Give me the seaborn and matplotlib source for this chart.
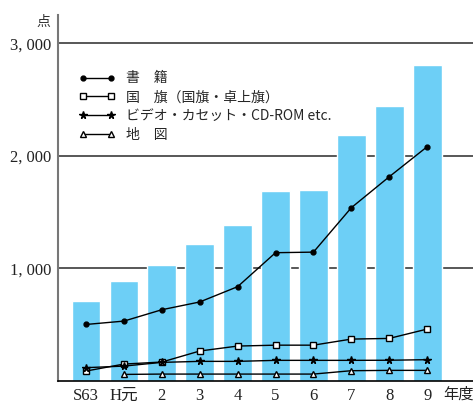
import numpy as np
import pandas as pd
import matplotlib
matplotlib.use("Agg")
import matplotlib.pyplot as plt
import seaborn as sns

# 年度 labels
years = ["S63", "H元", "2", "3", "4", "5", "6", "7", "8", "9"]
# total items (bars)
total = [710, 886, 1030, 1215, 1385, 1690, 1698, 2180, 2445, 2810]
# 書籍
books = [500, 530, 631, 700, 836, 1138, 1143, 1538, 1813, 2080]
# 国旗（国旗・卓上旗）
flags = [86, 148, 166, 264, 308, 316, 316, 370, 376, 459]
# ビデオ・カセット・CD-ROM etc.
media = [116, 130, 163, 172, 172, 181, 181, 181, 182, 187]
# 地図 (no entry for S63)
maps = [np.nan, 56, 59, 59, 59, 59, 59, 89, 92, 92]

y_ticks = [1000, 2000, 3000]
y_tick_labels = ["1, 000", "2, 000", "3, 000"]

sns.set_theme(style="white")
plt.rcParams["font.family"] = ["Liberation Serif", "Noto Sans CJK JP", "DejaVu Sans"]

fig = plt.figure(figsize=(4.73, 4.03), dpi=100)
ax = fig.add_axes([0.1226, 0.0553, 0.8774, 0.9075])

df = pd.DataFrame({"year": years, "total": total})
sns.barplot(data=df, x="year", y="total", color="#6DCFF6", saturation=1,
            width=0.76, ax=ax, zorder=2)

pos = np.arange(len(years))
line_kw = dict(color="black", linewidth=1.0, zorder=4)
ax.plot(pos, books, marker="o", markersize=3.5, markerfacecolor="black",
        label="書　籍", **line_kw)
ax.plot(pos, flags, marker="s", markersize=4.5, markerfacecolor="white",
        markeredgewidth=1.0, label="国　旗（国旗・卓上旗）", **line_kw)
ax.plot(pos, media, marker="*", markersize=5.5, markerfacecolor="black",
        label="ビデオ・カセット・CD-ROM etc.", **line_kw)
ax.plot(pos, maps, marker="^", markersize=4.5, markerfacecolor="white",
        markeredgewidth=1.0, label="地　図", **line_kw)

ax.set_xlim(-0.74, 10.21)
ax.set_ylim(0, 3251)
# year labels plus the unit label 年度 on the same row
ax.set_xticks(list(pos) + [9.82])
ax.set_xticklabels(years + ["年度"])
ax.set_yticks(y_ticks)
ax.set_yticklabels(y_tick_labels)
ax.set_xlabel("")
ax.set_ylabel("")
ax.tick_params(axis="both", length=0, labelsize=12, colors="#222222")
ax.tick_params(axis="x", pad=5)
ax.tick_params(axis="y", pad=5)
ax.get_xticklabels()[-1].set_fontsize(11)

for y in y_ticks:
    ax.axhline(y, color="#4a4a4a", linewidth=1.3, zorder=1)

for side in ("top", "right"):
    ax.spines[side].set_visible(False)
ax.spines["left"].set_color("#777777")
ax.spines["left"].set_linewidth(1.5)
ax.spines["bottom"].set_color("black")
ax.spines["bottom"].set_linewidth(1.2)

ax.text(-0.034, 0.981, "点", transform=ax.transAxes, ha="center", va="center",
        fontsize=10, color="#333333")

leg = ax.legend(loc="upper left", bbox_to_anchor=(0.02, 0.88), frameon=False,
                numpoints=2, handlelength=2.6, handletextpad=0.8,
                labelspacing=0.35,
                prop={"family": ["Noto Sans CJK JP", "DejaVu Sans"], "size": 10})

fig.savefig("out.png", dpi=100)
